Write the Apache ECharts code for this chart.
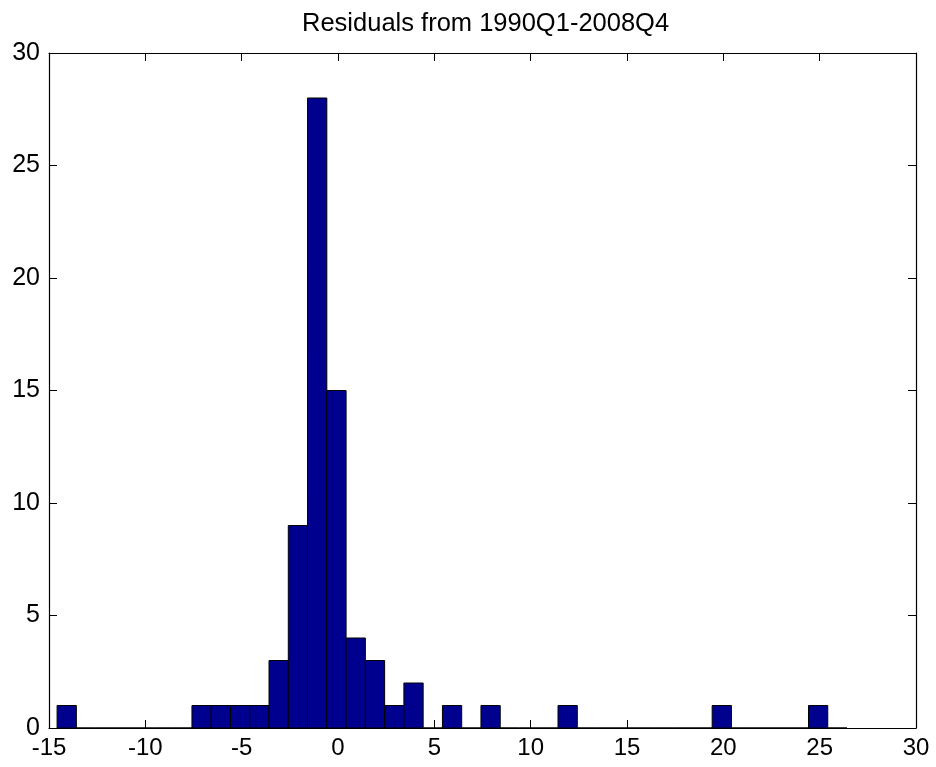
<!DOCTYPE html>
<html>
<head>
<meta charset="utf-8">
<script src="https://cdn.jsdelivr.net/npm/echarts@6/dist/echarts.min.js"></script>
<style>html,body{margin:0;padding:0;background:#fff}#c{width:936px;height:767px}</style>
</head>
<body>
<div id="c"></div>
<script>
const titleText = 'Residuals from 1990Q1-2008Q4';
const binCenters = [-14.08, -13.08, -12.08, -11.08, -10.08, -9.08, -8.08, -7.08, -6.08, -5.08,
  -4.08, -3.08, -2.08, -1.08, -0.08, 0.92, 1.92, 2.92, 3.92, 4.92,
  5.92, 6.92, 7.92, 8.92, 9.92, 10.92, 11.92, 12.92, 13.92, 14.92,
  15.92, 16.92, 17.92, 18.92, 19.92, 20.92, 21.92, 22.92, 23.92, 24.92, 25.92];
const counts = [1, 0, 0, 0, 0, 0, 0, 1, 1, 1,
  1, 3, 9, 28, 15, 4, 3, 1, 2, 0,
  1, 0, 1, 0, 0, 0, 1, 0, 0, 0,
  0, 0, 0, 0, 1, 0, 0, 0, 0, 1, 0];
const binWidth = 1.0;
const xTicks = [-15, 30, 5];
const yTicks = [0, 30, 5];

const chart = echarts.init(document.getElementById('c'), null, {renderer: 'canvas'});
const font = 'Liberation Sans, Arial, sans-serif';
function axisCommon() {
  return {
    axisLine: {show: true, onZero: false, lineStyle: {color: '#000', width: 1.2}},
    axisTick: {show: true, inside: true, length: 8, lineStyle: {color: '#000', width: 1}},
    splitLine: {show: false}
  };
}
chart.setOption({
  animation: false,
  backgroundColor: '#fff',
  title: {
    text: titleText, left: 297, top: 6,
    textStyle: {fontFamily: font, fontSize: 25.5, fontWeight: 'normal', color: '#000'}
  },
  grid: {left: 49, right: 20, top: 53, bottom: 39, containLabel: false},
  xAxis: [
    Object.assign({type: 'value', min: xTicks[0], max: xTicks[1], interval: xTicks[2], position: 'bottom',
      axisLabel: {fontFamily: font, fontSize: 24, color: '#000', margin: 8}}, axisCommon()),
    Object.assign({type: 'value', min: xTicks[0], max: xTicks[1], interval: xTicks[2], position: 'top',
      axisLabel: {show: false}}, axisCommon())
  ],
  yAxis: [
    Object.assign({type: 'value', min: yTicks[0], max: yTicks[1], interval: yTicks[2], position: 'left',
      axisLabel: {fontFamily: font, fontSize: 25, color: '#000', margin: 9}}, axisCommon()),
    Object.assign({type: 'value', min: yTicks[0], max: yTicks[1], interval: yTicks[2], position: 'right',
      axisLabel: {show: false}}, axisCommon())
  ],
  series: [{
    type: 'custom',
    xAxisIndex: 0, yAxisIndex: 0,
    data: binCenters.map((c, i) => [c, counts[i]]),
    renderItem: function (params, api) {
      const c = api.value(0), v = api.value(1);
      const p0 = api.coord([c - binWidth / 2, v]);
      const p1 = api.coord([c + binWidth / 2, 0]);
      return {
        type: 'rect',
        shape: {x: p0[0], y: p0[1], width: p1[0] - p0[0], height: p1[1] - p0[1]},
        style: {fill: '#00008F', stroke: '#000', lineWidth: 1}
      };
    }
  }]
});
</script>
</body>
</html>
